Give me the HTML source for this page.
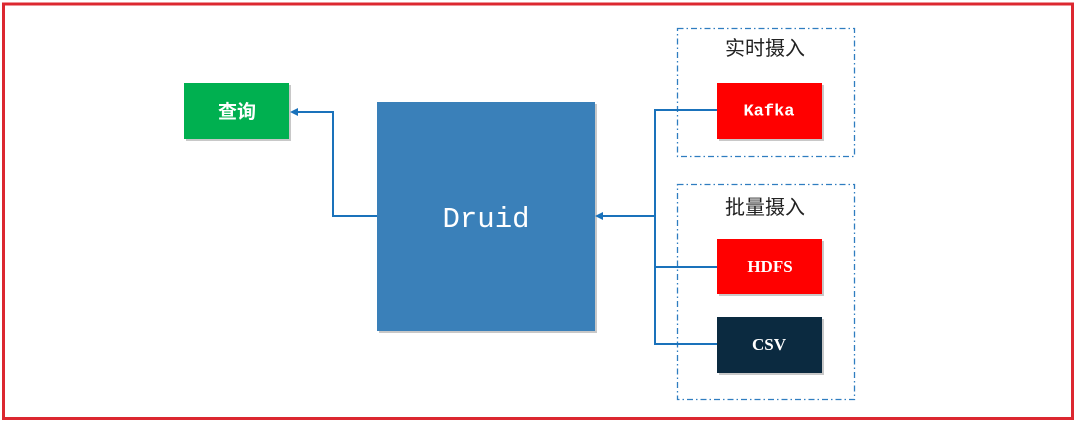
<!DOCTYPE html>
<html><head><meta charset="utf-8"><style>
html,body{margin:0;padding:0;background:#fff;}
svg{display:block;}
</style></head><body>
<svg width="1074" height="423" viewBox="0 0 1074 423" xmlns="http://www.w3.org/2000/svg">
<rect x="0" y="0" width="1074" height="423" fill="#fff"/>
<!-- red frame -->
<rect x="3.5" y="4" width="1069" height="414.5" fill="none" stroke="#dc2830" stroke-width="3"/>

<!-- dashed group frames -->
<rect x="677.5" y="28.5" width="177" height="128" fill="none" stroke="#2f7dc0" stroke-width="1.3" stroke-dasharray="6 3 1.5 3"/>
<rect x="677.5" y="184.5" width="177" height="215" fill="none" stroke="#2f7dc0" stroke-width="1.3" stroke-dasharray="6 3 1.5 3"/>

<!-- group labels -->
<text x="765" y="55" font-family="'Noto Sans CJK SC','WenQuanYi Zen Hei',sans-serif" font-size="20" fill="#222" text-anchor="middle">实时摄入</text>
<text x="765" y="214" font-family="'Noto Sans CJK SC','WenQuanYi Zen Hei',sans-serif" font-size="20" fill="#222" text-anchor="middle">批量摄入</text>

<!-- shadows -->
<rect x="186" y="85" width="105" height="56" fill="#c8c8c8"/>
<rect x="379" y="104" width="218" height="229" fill="#c8c8c8"/>
<rect x="719" y="85" width="105" height="56" fill="#c8c8c8"/>
<rect x="719" y="241" width="105" height="55" fill="#c8c8c8"/>
<rect x="719" y="319" width="105" height="56" fill="#c8c8c8"/>

<!-- boxes -->
<rect x="184" y="83" width="105" height="56" fill="#00b050"/>
<rect x="377" y="102" width="218" height="229" fill="#3a80b9"/>
<rect x="717" y="83" width="105" height="56" fill="#ff0000"/>
<rect x="717" y="239" width="105" height="55" fill="#ff0000"/>
<rect x="717" y="317" width="105" height="56" fill="#0b2a40"/>

<!-- connectors -->
<g fill="none" stroke="#1a72bb" stroke-width="2">
<polyline points="377,216 333,216 333,112 296,112"/>
<polyline points="717,110 655,110 655,344 717,344"/>
<line x1="655" y1="267" x2="717" y2="267"/>
<line x1="655" y1="216" x2="601" y2="216"/>
</g>
<polygon points="290,112 298,108 298,116" fill="#1a72bb"/>
<polygon points="595,216 603,212 603,220" fill="#1a72bb"/>

<!-- texts -->
<text x="237" y="118" font-family="'Noto Sans CJK SC','WenQuanYi Zen Hei',sans-serif" font-size="19" font-weight="bold" fill="#fff" text-anchor="middle">查询</text>
<text x="486" y="227" font-family="'Liberation Mono',monospace" font-size="29" fill="#fff" text-anchor="middle">Druid</text>
<text x="769" y="111" font-family="'Liberation Mono',monospace" font-size="17" font-weight="bold" fill="#fff" text-anchor="middle" dominant-baseline="middle">Kafka</text>
<text x="770" y="268" font-family="'Liberation Serif',serif" font-size="17" font-weight="bold" fill="#fff" text-anchor="middle" dominant-baseline="middle">HDFS</text>
<text x="769" y="346" font-family="'Liberation Serif',serif" font-size="17" font-weight="bold" fill="#fff" text-anchor="middle" dominant-baseline="middle">CSV</text>
</svg>
</body></html>
